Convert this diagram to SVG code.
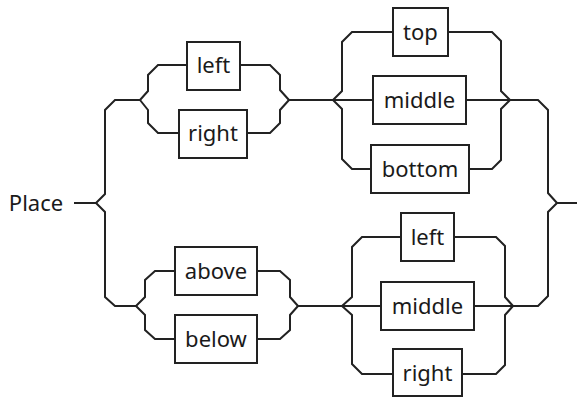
<svg xmlns="http://www.w3.org/2000/svg" width="577" height="398" viewBox="0 0 577 398">
<style>
.c{fill:none;stroke:#222;stroke-width:2;stroke-linejoin:miter}
.b{fill:#fff;stroke:#222;stroke-width:2}
.t{font-family:"Noto Sans",sans-serif;font-size:22px;fill:#1a1a1a;text-anchor:middle}
</style>
<rect width="577" height="398" fill="#fff"/>
<g id="connectors" class="c">
<path d="M74,203H96"/>
<path d="M96,203L105,194V110L115,100H140"/>
<path d="M96,203L105,212V297L115,306H136"/>
<path d="M140,100L148,91V75L158,65H187"/>
<path d="M140,100L148,110V123L158,133H179"/>
<path d="M240,65H270L280,75V90L289,100"/>
<path d="M247,133H270L280,123V110L289,100"/>
<path d="M289,100H333"/>
<path d="M333,100L342,91V42L352,32H393"/>
<path d="M333,100H373"/>
<path d="M333,100L342,109V159L352,169H371"/>
<path d="M448,32H492L501,41V91L510,100"/>
<path d="M466,100H510"/>
<path d="M469,169H492L501,160V109L510,100"/>
<path d="M510,100H538L548,110V193L557,203"/>
<path d="M136,306L145,297V280L155,271H175"/>
<path d="M136,306L145,315V330L155,339H175"/>
<path d="M257,271H280L290,280V297L298,306"/>
<path d="M257,339H280L290,330V315L298,306"/>
<path d="M298,306H342"/>
<path d="M342,306L352,297V247L362,237H401"/>
<path d="M342,306H381"/>
<path d="M342,306L352,315V364L362,374H393"/>
<path d="M454,237H496L505,246V297L513,306"/>
<path d="M474,306H513"/>
<path d="M462,374H496L505,365V315L513,306"/>
<path d="M513,306H538L548,296V212L557,203"/>
<path d="M557,203H577"/>
</g>
<g id="place"><text class="t" x="36" y="211">Place</text></g>
<g id="left1"><rect class="b" x="187" y="42" width="53" height="48"/><text class="t" x="213.5" y="73">left</text></g>
<g id="right1"><rect class="b" x="179" y="110" width="68" height="48"/><text class="t" x="213" y="141">right</text></g>
<g id="top"><rect class="b" x="393" y="8" width="55" height="48"/><text class="t" x="420.5" y="40">top</text></g>
<g id="middle1"><rect class="b" x="373" y="76" width="93" height="48"/><text class="t" x="419.5" y="108">middle</text></g>
<g id="bottom"><rect class="b" x="371" y="145" width="98" height="48"/><text class="t" x="420" y="177">bottom</text></g>
<g id="above"><rect class="b" x="175" y="247" width="82" height="48"/><text class="t" x="216" y="279">above</text></g>
<g id="below"><rect class="b" x="175" y="315" width="82" height="48"/><text class="t" x="216" y="347">below</text></g>
<g id="left2"><rect class="b" x="401" y="213" width="53" height="48"/><text class="t" x="427.5" y="245">left</text></g>
<g id="middle2"><rect class="b" x="381" y="282" width="93" height="48"/><text class="t" x="427.5" y="314">middle</text></g>
<g id="right2"><rect class="b" x="393" y="349" width="69" height="47"/><text class="t" x="427.5" y="381">right</text></g>
</svg>
